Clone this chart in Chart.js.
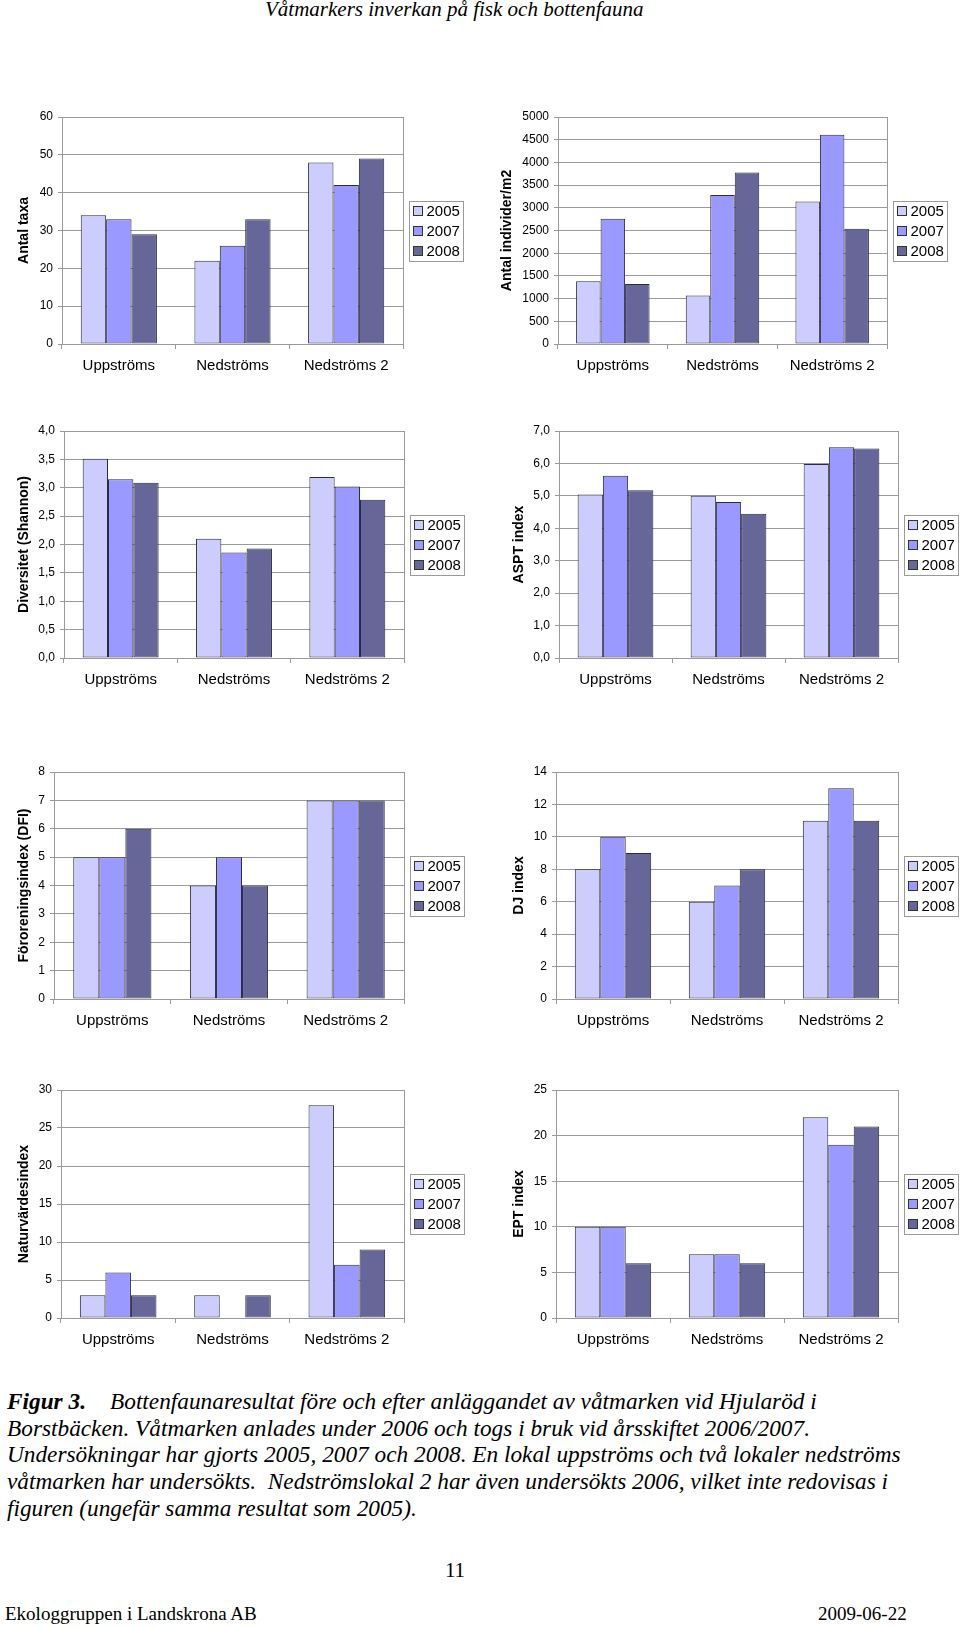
<!DOCTYPE html>
<html>
<head>
<meta charset="utf-8">
<script src="https://cdn.jsdelivr.net/npm/chart.js@4.4.1/dist/chart.umd.min.js"></script>
<style>
  body { margin: 0; width: 960px; height: 1627px; background: #fff; position: relative; overflow: hidden;
         font-family: "Liberation Serif", "Times New Roman", serif; color: #000; }
  canvas { position: absolute; }
  .hdr { position: absolute; left: 265px; top: -3px; font-size: 21px; font-style: italic; white-space: nowrap; }
  .cap { position: absolute; left: 7px; font-size: 23.3px; font-style: italic; line-height: 26px; white-space: nowrap; }
  .tab { display: inline-block; width: 103px; font-weight: bold; }
  .pg { position: absolute; left: 0; width: 910px; text-align: center; top: 1558px; font-size: 21px; }
  .foot { position: absolute; top: 1603px; font-size: 19px; white-space: nowrap; }
</style>
</head>
<body>
<div class="hdr">Våtmarkers inverkan på fisk och bottenfauna</div>

<div class="cap" style="top:1388px"><span class="tab">Figur 3.</span>Bottenfaunaresultat före och efter anläggandet av våtmarken vid Hjularöd i</div>
<div class="cap" style="top:1415px">Borstbäcken. Våtmarken anlades under 2006 och togs i bruk vid årsskiftet 2006/2007.</div>
<div class="cap" style="top:1441px">Undersökningar har gjorts 2005, 2007 och 2008. En lokal uppströms och två lokaler nedströms</div>
<div class="cap" style="top:1468px">våtmarken har undersökts.&nbsp; Nedströmslokal 2 har även undersökts 2006, vilket inte redovisas i</div>
<div class="cap" style="top:1495px">figuren (ungefär samma resultat som 2005).</div>
<div class="pg">11</div>
<div class="foot" style="left:5px">Ekologgruppen i Landskrona AB</div>
<div class="foot" style="left:818px">2009-06-22</div>

<script>
// Lokaler och provtagningsår
const categories = ['Uppströms', 'Nedströms', 'Nedströms 2'];
const years = ['2005', '2007', '2008'];

// Värden: en rad per år (2005, 2007, 2008), en kolumn per lokal
const antalTaxa = [[34, 22, 48], [33, 26, 42], [29, 33, 49]];
const antalIndivider = [[1380, 1070, 3140], [2760, 3280, 4610], [1320, 3780, 2540]];
const diversitet = [[3.51, 2.10, 3.19], [3.15, 1.86, 3.02], [3.09, 1.93, 2.79]];
const asptIndex = [[5.04, 5.00, 5.98], [5.62, 4.81, 6.50], [5.17, 4.45, 6.46]];
const dfiIndex = [[5, 4, 7], [5, 5, 7], [6, 4, 7]];
const djIndex = [[8, 6, 11], [10, 7, 13], [9, 8, 11]];
const naturvarde = [[3, 3, 28], [6, null, 7], [3, 3, 9]];
const eptIndex = [[10, 7, 22], [10, 7, 19], [6, 6, 21]];

const allSeries = [antalTaxa, antalIndivider, diversitet, asptIndex, dfiIndex, djIndex, naturvarde, eptIndex];
const axisTitles = ['Antal taxa', 'Antal individer/m2', 'Diversitet (Shannon)', 'ASPT index',
                    'Föroreningsindex (DFI)', 'DJ index', 'Naturvärdesindex', 'EPT index'];
const yMax = [60, 5000, 4, 7, 8, 14, 30, 25];
const yStep = [10, 500, 0.5, 1, 1, 2, 5, 5];
const yDecimals = [0, 0, 1, 1, 0, 0, 0, 0];

// Färger (Excel-palett)
const barColors = ['#CCCCFF', '#9999FF', '#666699'];
const lineGray = '#9a9a9a';

// Plottytor på sidan (l, t, r, b) och x-läge för axeltiteln
const plots = [
  { l: 62,  t: 117,  r: 403, b: 344,  tx: 24 },
  { l: 558, t: 117,  r: 887, b: 344,  tx: 507 },
  { l: 64,  t: 431,  r: 404, b: 658,  tx: 24 },
  { l: 559, t: 431,  r: 898, b: 658,  tx: 519 },
  { l: 54,  t: 772,  r: 404, b: 999,  tx: 24 },
  { l: 556, t: 772,  r: 898, b: 999,  tx: 519 },
  { l: 61,  t: 1090, r: 404, b: 1318, tx: 24 },
  { l: 556, t: 1090, r: 898, b: 1318, tx: 519 }
];

// Ram runt plottytan (höger kant)
const framePlugin = {
  id: 'frame',
  afterDraw(chart) {
    const { ctx, chartArea } = chart;
    const x = Math.round(chartArea.right) + 0.5;
    ctx.save();
    ctx.strokeStyle = lineGray;
    ctx.lineWidth = 1;
    ctx.beginPath();
    ctx.moveTo(x, Math.round(chartArea.top));
    ctx.lineTo(x, Math.round(chartArea.bottom) + 1);
    ctx.stroke();
    ctx.restore();
  }
};

// Legend i ruta till höger om plottytan
const boxLegendPlugin = {
  id: 'boxLegend',
  afterDraw(chart) {
    const { ctx, chartArea } = chart;
    const bx = Math.round(chartArea.right) + 6.5;
    const cy = (chartArea.top + chartArea.bottom) / 2;
    const by = Math.round(cy - 30) + 0.5;
    ctx.save();
    ctx.fillStyle = '#fff';
    ctx.fillRect(bx, by, 54, 60);
    ctx.strokeStyle = lineGray;
    ctx.lineWidth = 1;
    ctx.strokeRect(bx, by, 54, 60);
    ctx.font = '15px "Liberation Sans", Arial, sans-serif';
    ctx.textBaseline = 'middle';
    chart.data.datasets.forEach((ds, i) => {
      const y = cy + (i - 1) * 20;
      const sy = Math.round(y - 5) + 0.5;
      ctx.fillStyle = ds.backgroundColor;
      ctx.fillRect(bx + 4, sy, 9, 9);
      ctx.strokeStyle = '#333';
      ctx.strokeRect(bx + 4, sy, 9, 9);
      ctx.fillStyle = '#000';
      ctx.fillText(ds.label, bx + 17, y + 1);
    });
    ctx.restore();
  }
};

const sansFont = '"Liberation Sans", Arial, sans-serif';

plots.forEach((p, idx) => {
  const right = p.l > 480;
  const cx = right ? 470 : 0;
  const cw = right ? 490 : 470;
  const cy = p.t - 14;
  const ch = p.b + 36 - cy;

  const canvas = document.createElement('canvas');
  canvas.width = cw;
  canvas.height = ch;
  canvas.style.left = cx + 'px';
  canvas.style.top = cy + 'px';
  document.body.appendChild(canvas);

  const dec = yDecimals[idx];

  new Chart(canvas, {
    type: 'bar',
    data: {
      labels: categories,
      datasets: years.map((year, i) => ({
        label: year,
        data: allSeries[idx][i],
        backgroundColor: barColors[i],
        borderColor: '#2a2a40',
        borderWidth: 1,
        borderSkipped: false,
        categoryPercentage: 0.67,
        barPercentage: 1.0
      }))
    },
    options: {
      responsive: false,
      animation: false,
      devicePixelRatio: 1,
      layout: { padding: { top: p.t - cy, right: cx + cw - p.r, left: 0, bottom: 0 } },
      plugins: {
        legend: { display: false },
        tooltip: { enabled: false },
        title: { display: false }
      },
      events: [],
      scales: {
        x: {
          grid: { display: true, drawOnChartArea: false, offset: true, tickLength: 5, color: lineGray },
          border: { color: lineGray },
          ticks: { color: '#000', padding: 8, font: { family: sansFont, size: 15 } },
          afterFit: s => { s.height = cy + ch - p.b; }
        },
        y: {
          min: 0,
          max: yMax[idx],
          grid: { color: lineGray, tickLength: 4 },
          border: { color: lineGray },
          ticks: {
            stepSize: yStep[idx],
            color: '#000',
            padding: 5,
            font: { family: sansFont, size: 12 },
            callback: v => Number(v).toFixed(dec).replace('.', ',')
          },
          title: {
            display: true,
            text: axisTitles[idx],
            color: '#000',
            font: { family: sansFont, size: 14, weight: 'bold' },
            padding: { top: p.tx - cx - 8.4, bottom: 0 }
          },
          afterFit: s => { s.width = p.l - cx; }
        }
      }
    },
    plugins: [framePlugin, boxLegendPlugin]
  });
});
</script>
</body>
</html>
